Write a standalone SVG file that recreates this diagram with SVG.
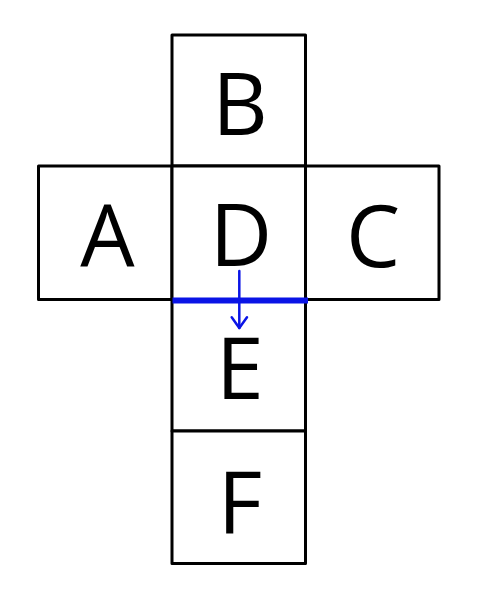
<svg xmlns="http://www.w3.org/2000/svg" width="504" height="598" viewBox="0 0 504 598">
<style>
.box{fill:#fff;stroke:#000;stroke-width:3;stroke-linejoin:round}
.lbl{font-family:"Open Sans","Noto Sans",sans-serif;font-size:86px;fill:#000;text-anchor:middle}
.fold{stroke:#0a14e6;stroke-width:6;fill:none}
.arr{stroke:#0a14e6;stroke-width:2.5;fill:none;stroke-linecap:round;stroke-linejoin:round}
</style>
<rect width="504" height="598" fill="#fff"/>
<g id="B"><rect class="box" x="172" y="35" width="133.5" height="131"/><text class="lbl" x="240" y="135">B</text></g>
<g id="A"><rect class="box" x="38.5" y="166" width="133.5" height="133.5"/><text class="lbl" x="107.5" y="267">A</text></g>
<g id="D"><rect class="box" x="172" y="166" width="133.5" height="133.5"/><text class="lbl" x="241" y="266">D</text></g>
<g id="C"><rect class="box" x="305.5" y="166" width="133.5" height="133.5"/><text class="lbl" x="373" y="267">C</text></g>
<g id="E"><rect class="box" x="172" y="299.5" width="133.5" height="131.5"/><text class="lbl" x="240" y="399">E</text></g>
<g id="F"><rect class="box" x="172" y="431" width="133.5" height="132.5"/><text class="lbl" x="240" y="533">F</text></g>
<g id="connectors">
<line class="fold" x1="172.5" y1="300.5" x2="308" y2="300.5"/>
<line class="arr" x1="239.3" y1="271" x2="239.3" y2="328"/>
<polyline class="arr" points="231.7,317.3 239.3,328 247,317.3"/>
</g>
</svg>
